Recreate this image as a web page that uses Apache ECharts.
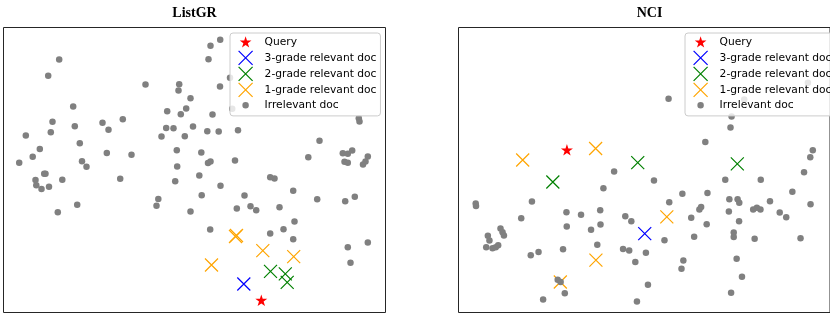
<!DOCTYPE html>
<html><head><meta charset="utf-8">
<script src="https://cdn.jsdelivr.net/npm/echarts@6/dist/echarts.min.js"></script>
<style>html,body{margin:0;padding:0;background:#fff}#c{width:830px;height:314px}</style>
</head><body><div id="c"></div>
<script>
// Panel titles and legend entries
const panelTitles = ['ListGR', 'NCI'];
const legendNames = ['Query', '3-grade relevant doc', '2-grade relevant doc', '1-grade relevant doc', 'Irrelevant doc'];

// Embedding coordinates (x to the right, y downward; frame spans 0..382 x 0..285)
const listgrQuery = [[257.8, 272.7]];
const listgrGrade3 = [[240.3, 256.5]];
const listgrGrade2 = [[267, 243.8], [281.8, 246.3], [283.7, 254.8]];
const listgrGrade1 = [[232, 209], [233, 208], [259.3, 223.2], [290.2, 229.2], [208, 237.5]];
const listgrIrrelevant = [
  [55.7,32],[44.7,48.3],[142,57],[175.7,56.7],[175,63],[187,70.7],[69.7,79],[163.7,83.7],[182.7,81],[177.3,86.7],
  [49,94.3],[99,95.3],[119.3,91.7],[71.3,98.7],[105,102.3],[47.3,104.7],[22.3,108],[162.7,100.5],[170,100.7],[189.5,99],
  [158,109],[181.3,108.7],[76.3,115.7],[36.3,121.5],[29.2,129.3],[15.7,135.2],[103.3,125.5],[128,127.2],[173.3,122.8],[197.8,125],
  [78.5,133.7],[83,139.2],[173.7,139],[216.7,12.2],[207,18.2],[205,31.8],[226.5,50.3],[216.5,59],[209,87],[228.7,81.2],
  [203.8,103.7],[215.2,104],[234.5,102.7],[355.3,90.8],[356,94],[316,113.3],[364.3,129],[339.3,125.8],[344.3,126.3],[348.7,123],
  [304.8,129.7],[204.5,135.5],[207,134],[231.5,133],[341,134.3],[344.3,135.3],[362,134],[359.5,137],[40.7,146.2],[42,146.2],
  [32,152.5],[32.8,157.7],[38,161.5],[45.5,159.2],[58.8,152.3],[116.7,151.2],[171.7,153.8],[195.8,148],[217,158.3],[266.7,149.7],
  [271,151],[289.7,163.3],[241,168],[198.2,167.7],[154.8,171.5],[153,178.3],[73.7,177.2],[54.3,184.7],[187,184],[233.3,181],
  [247,178.7],[252.7,182.7],[276,179.7],[313.7,171.7],[341.7,173.7],[351.3,169.3],[291,194],[206.7,202],[266.7,206],[280,201.7],
  [289.7,211.7],[344.3,219.7],[364.3,215],[347,235.3]
];

const nciQuery = [[111.5, 122.3]];
const nciGrade3 = [[191.5, 206.2]];
const nciGrade2 = [[184.3, 135.2], [286.7, 136.3], [97, 154.5]];
const nciGrade1 = [[141, 121], [66, 132.5], [214.2, 189.3], [141.3, 232.7], [104.7, 254.5]];
const nciIrrelevant = [
  [216,71.3],[293.8,72],[359.3,55.3],[280.8,89],[279.7,100],[253.8,114.5],[364.3,122.8],[361.7,129.8],[160,144],[201,153],
  [149,160.7],[274.3,152.2],[310.8,152.2],[355.3,144.8],[343.3,164.3],[230.2,166.3],[256,165.5],[216.7,174.7],[278.5,171.8],[287,171.7],
  [288.7,175.3],[320.3,173.7],[362,176.7],[17.7,176],[18,178.5],[75.5,174],[111,184.7],[126,187.3],[145.7,182.7],[64.5,190.8],
  [171.5,188.7],[177.7,193.8],[247.7,182],[249.5,179.5],[278,184],[303,182],[306.8,180.3],[310.5,182],[330.3,185],[337,189.8],
  [288.5,193.8],[239.3,190.3],[255.2,196.7],[111.3,199],[136.3,202.3],[146,197],[43.2,201],[45.3,204.8],[46.7,208],[30.2,208.2],
  [31.8,213],[28.5,219.8],[35,220.8],[38.3,219.7],[40.8,217.8],[283,205],[283,209.5],[304.5,211.3],[351.7,210.7],[242.3,209.3],
  [211.8,212.7],[142.7,217.3],[107.5,221.7],[74.3,227.7],[82.3,224.5],[169.2,221.5],[175.5,223],[192.7,225.3],[181.8,234.5],[231.2,233],
  [229.3,241.3],[286,231.2],[291.5,249.2],[102,252.3],[105,254.5],[109.3,265.8],[194.8,257.3],[87,272],[183.5,274],[280.3,265.3]
];

const panels = [
  { title: panelTitles[0], data: [listgrQuery, listgrGrade3, listgrGrade2, listgrGrade1, listgrIrrelevant] },
  { title: panelTitles[1], data: [nciQuery, nciGrade3, nciGrade2, nciGrade1, nciIrrelevant] }
];

const starPath = 'path://M50,0L61.2,34.5L97.6,34.5L68.2,55.9L79.4,90.5L50,71.1L20.6,90.5L31.8,55.9L2.4,34.5L38.8,34.5Z';
const starLegendPath = 'path://M-7,-7M107,107M50,0L61.2,34.5L97.6,34.5L68.2,55.9L79.4,90.5L50,71.1L20.6,90.5L31.8,55.9L2.4,34.5L38.8,34.5Z';
const crossPath = 'path://M0,0L10,10M10,0L0,10';
const dotLegendPath = 'path://M0,0M14,14M10.25,7A3.25,3.25,0,1,1,10.25,6.99Z';

const colors = ['#ff0000', '#0000ff', '#008000', '#ffa500', '#808080'];
const gridLefts = [3.5, 458.5];
const frameW = 382, frameH = 285;

const chart = echarts.init(document.getElementById('c'), null, { renderer: 'canvas' });

const grids = [], xAxes = [], yAxes = [], series = [], titles = [], legends = [];
panels.forEach((p, i) => {
  grids.push({ left: gridLefts[i], top: 27.5, width: frameW, height: frameH, show: true,
    borderColor: '#262626', borderWidth: 1, backgroundColor: 'transparent' });
  xAxes.push({ type: 'value', gridIndex: i, min: 0, max: frameW, show: false });
  yAxes.push({ type: 'value', gridIndex: i, min: 0, max: frameH, inverse: true, show: false });
  titles.push({ text: p.title, left: gridLefts[i] + frameW / 2, top: 6.5, textAlign: 'center', padding: 0,
    textStyle: { fontFamily: 'Liberation Serif', fontWeight: 'bold', fontSize: 14, color: '#000' } });
  legends.push({
    orient: 'vertical', left: gridLefts[i] + 226.5, top: 33, padding: [2.5, 4, 3.6, 8],
    itemWidth: 28, itemHeight: 14, itemGap: 0.8, selectedMode: false,
    backgroundColor: 'rgba(255,255,255,0.8)', borderColor: '#cccccc', borderWidth: 1, borderRadius: 3,
    itemStyle: { borderWidth: 1.2 },
    textStyle: { fontFamily: 'DejaVu Sans', fontSize: 10.7, color: '#000', lineHeight: 14 },
    data: [
      { name: legendNames[0], icon: starLegendPath },
      { name: legendNames[1], icon: crossPath },
      { name: legendNames[2], icon: crossPath },
      { name: legendNames[3], icon: crossPath },
      { name: legendNames[4], icon: dotLegendPath }
    ]
  });
  p.data.forEach((arr, k) => {
    const base = { type: 'scatter', name: legendNames[k], xAxisIndex: i, yAxisIndex: i, data: arr, silent: true, animation: false };
    if (k === 0) {
      Object.assign(base, { symbol: starPath, symbolSize: 12, symbolKeepAspect: true, itemStyle: { color: colors[0], opacity: 1 } });
    } else if (k < 4) {
      Object.assign(base, { symbol: crossPath, symbolSize: 13, itemStyle: { color: 'transparent', borderColor: colors[k], borderWidth: 1.2, opacity: 1 } });
    } else {
      Object.assign(base, { symbol: 'circle', symbolSize: 6.5, itemStyle: { color: colors[4], opacity: 1 } });
    }
    series.push(base);
  });
});

chart.setOption({
  animation: false,
  backgroundColor: '#ffffff',
  title: titles,
  legend: legends,
  grid: grids,
  xAxis: xAxes,
  yAxis: yAxes,
  series: series
});
</script>
</body></html>
